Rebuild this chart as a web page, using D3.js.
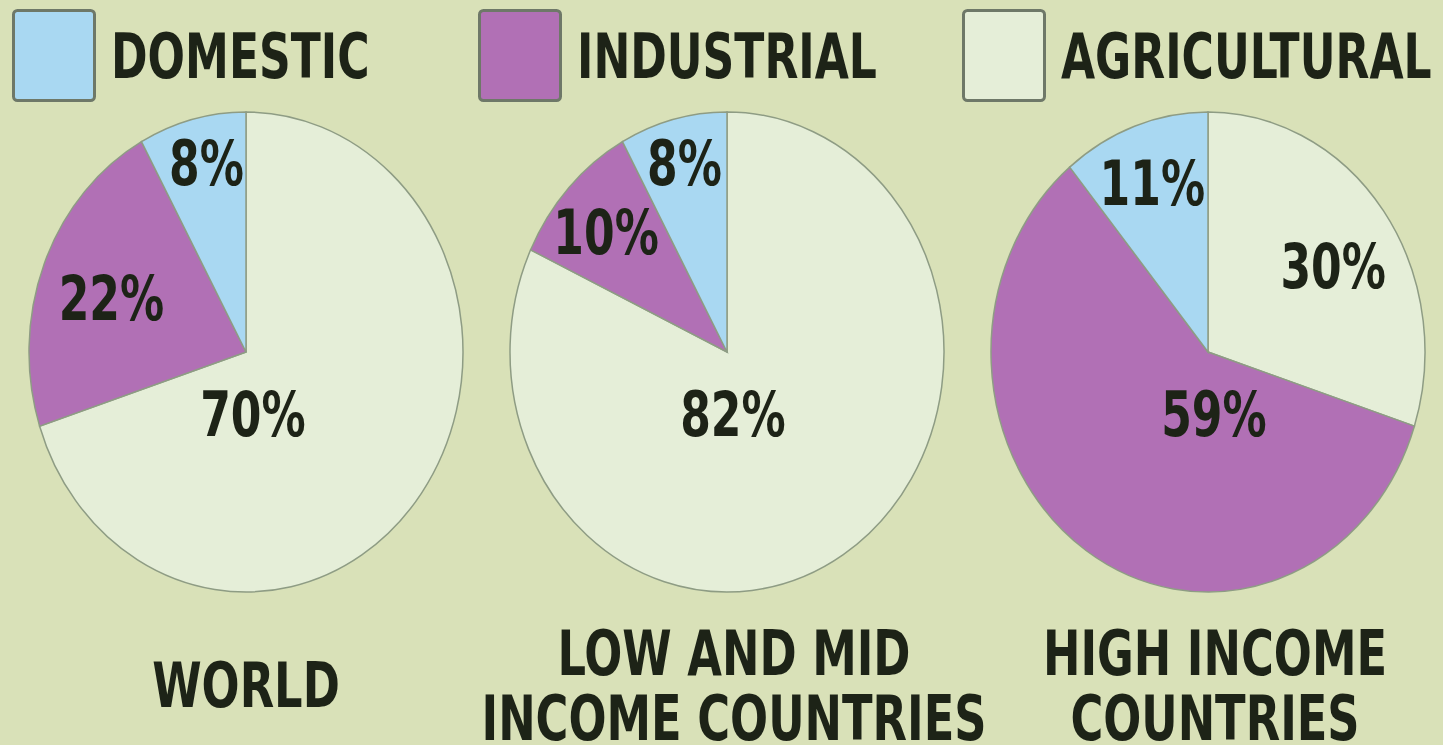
<!DOCTYPE html>
<html>
<head>
<meta charset="utf-8">
<script src="https://cdn.jsdelivr.net/npm/d3@7"></script>
<style>
  html, body { margin: 0; padding: 0; background: #d9e1b8; }
  svg { display: block; }
  text { font-family: "DejaVu Sans Condensed", "DejaVu Sans", sans-serif; font-weight: bold; fill: #1d2317; }
</style>
</head>
<body>
<div id="chart"></div>
<script>
// Width and height
var w = 1443;
var h = 745;

// categories, in the order they are drawn clockwise from 12 o'clock
var categories = ["AGRICULTURAL", "INDUSTRIAL", "DOMESTIC"];
var legendOrder = ["DOMESTIC", "INDUSTRIAL", "AGRICULTURAL"];

// the three groups and their share of water use (%)
var groups = ["WORLD", "LOW AND MID INCOME COUNTRIES", "HIGH INCOME COUNTRIES"];
var titleLines = [["WORLD"], ["LOW AND MID", "INCOME COUNTRIES"], ["HIGH INCOME", "COUNTRIES"]];
var agricultural = [70, 82, 30];
var industrial   = [22, 10, 59];
var domestic     = [8, 8, 11];

var colors = d3.scaleOrdinal()
  .domain(categories)
  .range(["#e5eed8", "#b170b5", "#a9d8f2"]);

// label placement inside each pie, per category (agri, industrial, domestic):
// [angle in degrees clockwise from top, radius fraction]
var labelPlace = [
  [[173, 0.26], [290, 0.66], [347, 0.81]],
  [[174, 0.26], [312, 0.75], [346, 0.81]],
  [[58, 0.68], [174, 0.26], [340, 0.75]]
];

var squeeze = 0.79;       // the lettering is a condensed face
var rx = 217, ry = 240;   // pies are drawn slightly taller than wide
var cy = 352;

var x = d3.scalePoint()
  .domain(groups)
  .range([246, 1208]);

var svg = d3.select("#chart")
  .append("svg")
  .attr("width", w)
  .attr("height", h);

svg.append("rect")
  .attr("width", w)
  .attr("height", h)
  .attr("fill", "#d9e1b8");

var pie = d3.pie()
  .sort(null)
  .value(function(d) { return d.value; });

var arc = d3.arc()
  .innerRadius(0)
  .outerRadius(rx);

// condensed text helper: place at (tx,ty) and squeeze horizontally
function label(parent, tx, ty, str, size, anchor) {
  return parent.append("text")
    .attr("transform", "translate(" + tx + "," + ty + ") scale(" + squeeze + ",1)")
    .attr("text-anchor", anchor || "middle")
    .style("font-size", size + "px")
    .text(str);
}

groups.forEach(function(g, i) {
  var rows = [
    {cat: "AGRICULTURAL", value: agricultural[i]},
    {cat: "INDUSTRIAL", value: industrial[i]},
    {cat: "DOMESTIC", value: domestic[i]}
  ];

  var cx = x(g);
  var grp = svg.append("g")
    .attr("transform", "translate(" + cx + "," + cy + ")");

  // the pie itself, stretched into an ellipse
  grp.append("g")
    .attr("transform", "scale(1," + (ry / rx) + ")")
    .selectAll("path")
    .data(pie(rows))
    .enter()
    .append("path")
    .attr("d", arc)
    .attr("fill", function(d) { return colors(d.data.cat); })
    .attr("stroke", "#8e9c84")
    .attr("stroke-width", 1.5)
    .attr("vector-effect", "non-scaling-stroke");

  // percent labels
  rows.forEach(function(d, j) {
    var a = labelPlace[i][j][0] * Math.PI / 180;
    var r = labelPlace[i][j][1];
    label(grp, Math.sin(a) * rx * r, -Math.cos(a) * ry * r + 22, d.value + "%", 62);
  });

  // group title under the pie
  var lines = titleLines[i];
  lines.forEach(function(t, k) {
    var ty = lines.length === 1 ? 707 : 675 + k * 65;
    label(svg, cx + (i === 0 ? 0 : 7), ty, t, 63);
  });
});

// legend across the top
var legendX = [12, 478, 962];
var legend = svg.selectAll(".legend")
  .data(legendOrder)
  .enter()
  .append("g")
  .attr("class", "legend")
  .attr("transform", function(d, i) { return "translate(" + legendX[i] + ",9)"; });

legend.append("rect")
  .attr("x", 1.5)
  .attr("y", 1.5)
  .attr("width", 81)
  .attr("height", 90)
  .attr("rx", 4)
  .attr("fill", function(d) { return colors(d); })
  .attr("stroke", "#6e7868")
  .attr("stroke-width", 3);

legend.each(function(d) {
  label(d3.select(this), 99, 69, d, 62, "start");
});
</script>
</body>
</html>
